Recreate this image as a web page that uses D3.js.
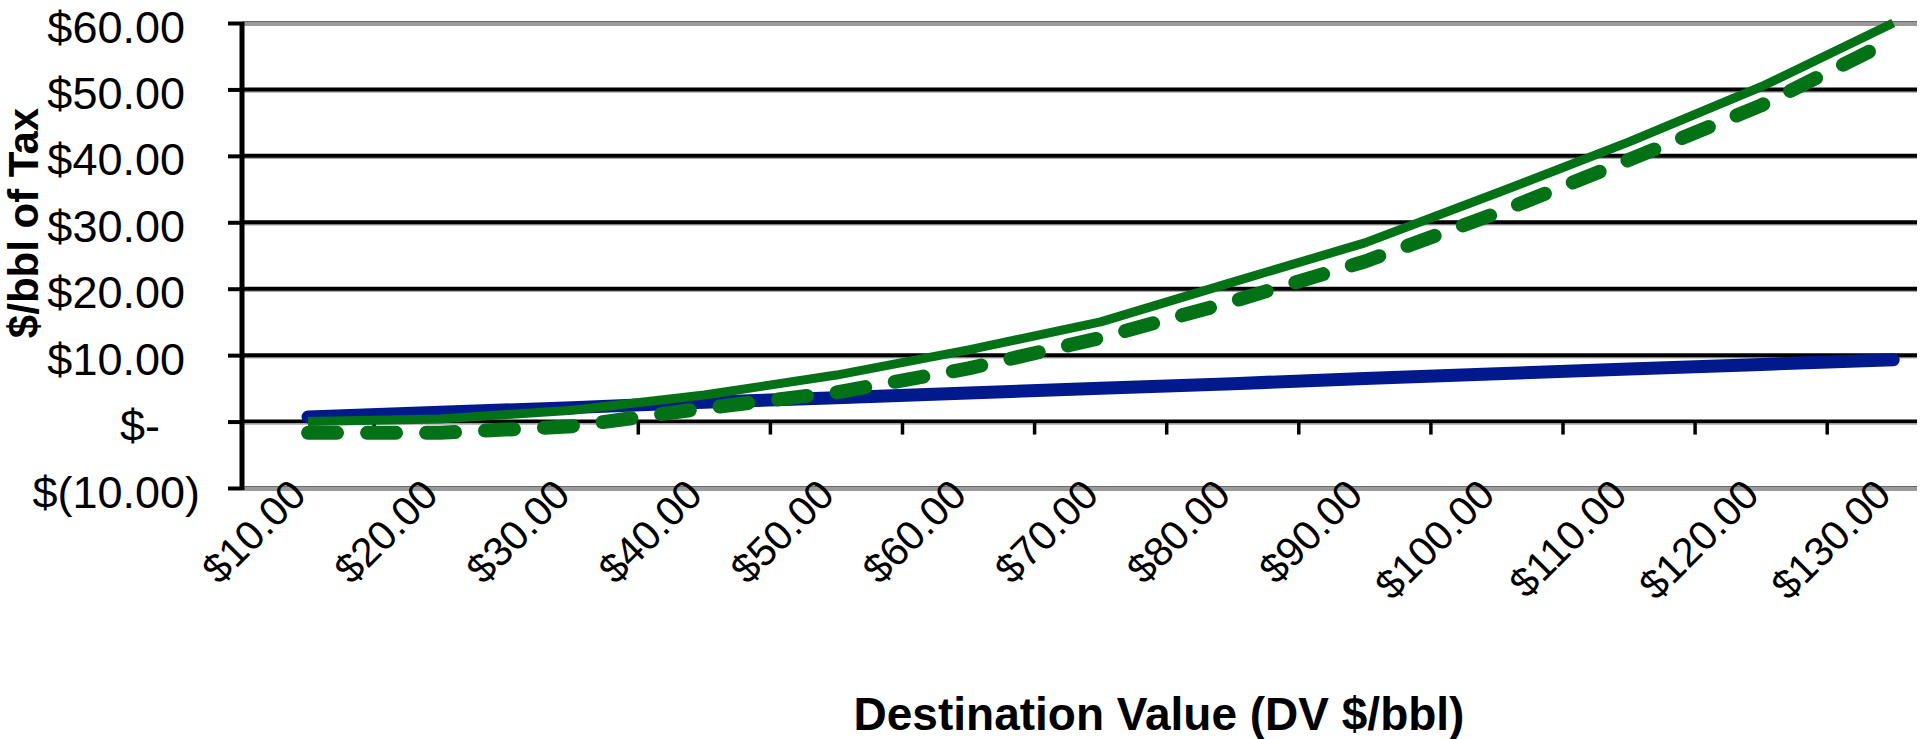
<!DOCTYPE html>
<html>
<head>
<meta charset="utf-8">
<script src="https://cdn.jsdelivr.net/npm/d3@7"></script>
<style>
  html, body { margin: 0; padding: 0; background: #fff; }
  svg { display: block; font-family: "Liberation Sans", Arial, sans-serif; }
</style>
</head>
<body>
<svg id="chart" width="1925" height="739"></svg>
<script>
// Destination value categories ($/bbl)
const categories = ["$10.00", "$20.00", "$30.00", "$40.00", "$50.00", "$60.00", "$70.00",
                    "$80.00", "$90.00", "$100.00", "$110.00", "$120.00", "$130.00"];

// Tax per barrel for each scenario
const blueSeries   = [0.7, 1.4, 2.1, 2.9, 3.6, 4.3, 5.0, 5.7, 6.5, 7.2, 7.9, 8.6, 9.3];
const greenSolid   = [0.0, 0.4, 1.7, 4.0, 7.0, 10.8, 15.0, 21.0, 26.9, 34.4, 42.1, 50.4, 60.0];
const greenDashed  = [-1.7, -1.7, -0.7, 2.0, 4.4, 8.0, 12.6, 18.1, 24.1, 31.4, 39.4, 47.6, 57.5];

// Value axis ticks
const yTicks = [-10, 0, 10, 20, 30, 40, 50, 60];

const yTitle = "$/bbl of Tax";
const xTitle = "Destination Value (DV $/bbl)";

const svg = d3.select("#chart");

const plotLeft = 242, plotRight = 1917, plotTop = 23, plotBottom = 488;
const step = 132.1;

const x = d3.scaleBand()
  .domain(categories)
  .range([plotLeft, plotLeft + step * categories.length])
  .paddingInner(0).paddingOuter(0);

const y = d3.scaleLinear().domain([-10, 60]).range([plotBottom, plotTop]);

const cx = c => x(c) + x.bandwidth() / 2;

// Horizontal gridlines (interior values) with a faint shadow
const gridVals = yTicks.filter(v => v > -10 && v < 60 && v !== 0);
svg.append("g").selectAll("line").data(gridVals).join("line")
  .attr("x1", plotLeft).attr("x2", plotRight)
  .attr("y1", d => y(d) + 2.5).attr("y2", d => y(d) + 2.5)
  .attr("stroke", "#a8a8a8").attr("stroke-width", 1.5);
svg.append("g").selectAll("line").data(gridVals).join("line")
  .attr("x1", plotLeft).attr("x2", plotRight)
  .attr("y1", d => y(d)).attr("y2", d => y(d))
  .attr("stroke", "#000").attr("stroke-width", 4);

// Plot area border, top and bottom
[60, -10].forEach(v => {
  svg.append("line")
    .attr("x1", plotLeft).attr("x2", plotRight)
    .attr("y1", y(v) + 0.5).attr("y2", y(v) + 0.5)
    .attr("stroke", "#9a9a9a").attr("stroke-width", 5);
  svg.append("line")
    .attr("x1", plotLeft).attr("x2", plotRight)
    .attr("y1", y(v) - 1.5).attr("y2", y(v) - 1.5)
    .attr("stroke", "#6a6a6a").attr("stroke-width", 1.2);
});

// Category axis along zero, ticks at category boundaries
const xAxisY = y(0);
svg.append("line")
  .attr("x1", plotLeft).attr("x2", plotRight)
  .attr("y1", xAxisY).attr("y2", xAxisY)
  .attr("stroke", "#000").attr("stroke-width", 4);
svg.append("line")
  .attr("x1", plotLeft).attr("x2", plotRight)
  .attr("y1", xAxisY + 2.5).attr("y2", xAxisY + 2.5)
  .attr("stroke", "#a8a8a8").attr("stroke-width", 1.5);
const boundaries = categories.slice(1).map(c => x(c));
svg.append("g").selectAll("line").data(boundaries).join("line")
  .attr("x1", d => d).attr("x2", d => d)
  .attr("y1", xAxisY).attr("y2", xAxisY + 13)
  .attr("stroke", "#000").attr("stroke-width", 3.5);

// Category labels, rotated, hanging below the plot
const xAxis = d3.axisBottom(x).tickSize(0).tickPadding(0);
const xg = svg.append("g").attr("transform", `translate(0,${plotBottom})`).call(xAxis);
xg.select(".domain").remove();
xg.selectAll("text")
  .attr("fill", "#000")
  .attr("font-size", 41)
  .attr("font-family", "'Liberation Sans', Arial, sans-serif")
  .attr("text-anchor", "end")
  .attr("x", 0).attr("y", 9).attr("dy", 0)
  .attr("transform", "rotate(-45,0,9)");

// Value axis
const fmt = v => v === 0 ? "$-" : (v < 0 ? "$(" + Math.abs(v).toFixed(2) + ")" : "$" + v.toFixed(2));
const labelRight = v => v === 0 ? -82 : (v < 0 ? -42 : -57);
const yAxis = d3.axisLeft(y).tickValues(yTicks).tickFormat(fmt).tickSize(14).tickPadding(0);
const yg = svg.append("g").attr("transform", `translate(${plotLeft},0)`).call(yAxis);
yg.select(".domain")
  .attr("stroke", "#000").attr("stroke-width", 5)
  .attr("d", `M0,${plotTop - 1}V${plotBottom + 2}`);
yg.selectAll(".tick line").attr("stroke", "#000").attr("stroke-width", 4);
yg.selectAll(".tick text")
  .attr("fill", "#000")
  .attr("font-size", 45)
  .attr("font-family", "'Liberation Sans', Arial, sans-serif")
  .attr("text-anchor", "end")
  .attr("x", d => labelRight(d))
  .attr("dy", 0).attr("y", 19);

// Series lines
const line = d3.line().x((d, i) => cx(categories[i])).y(d => y(d));

svg.append("path").datum(blueSeries)
  .attr("d", line).attr("fill", "none")
  .attr("stroke", "#001a8e").attr("stroke-width", 13)
  .attr("stroke-linecap", "round").attr("stroke-linejoin", "round");

svg.append("path").datum(greenSolid)
  .attr("d", line).attr("fill", "none")
  .attr("stroke", "#037116").attr("stroke-width", 9)
  .attr("stroke-linecap", "butt").attr("stroke-linejoin", "round");

svg.append("path").datum(greenDashed)
  .attr("d", line).attr("fill", "none")
  .attr("stroke", "#037116").attr("stroke-width", 14)
  .attr("stroke-dasharray", "29,30")
  .attr("stroke-linecap", "round").attr("stroke-linejoin", "round");

// Axis titles
svg.append("text")
  .attr("transform", "translate(38,223) rotate(-90)")
  .attr("text-anchor", "middle")
  .attr("font-size", 42).attr("font-weight", "bold")
  .text(yTitle);

svg.append("text")
  .attr("x", 1159).attr("y", 730)
  .attr("text-anchor", "middle")
  .attr("font-size", 46).attr("font-weight", "bold")
  .text(xTitle);
</script>
</body>
</html>
